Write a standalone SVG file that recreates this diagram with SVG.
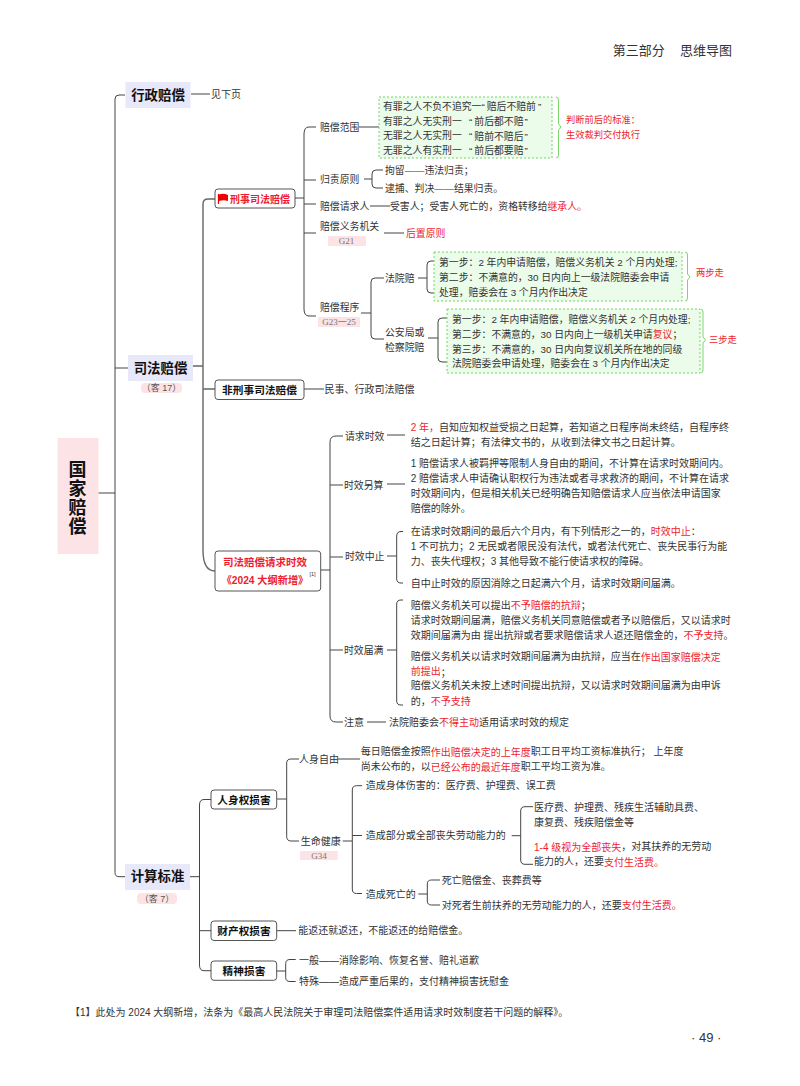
<svg xmlns="http://www.w3.org/2000/svg" width="800" height="1086" viewBox="0 0 800 1086">
<style>
text{font-family:"Liberation Sans","Noto Sans CJK SC",sans-serif;font-size:10px;fill:#333;dominant-baseline:central}
.u{font-size:9.85px}
.r,tspan.r{fill:#ee1c2e}
.s{font-size:9.25px;fill:#ee1c2e}
.h{font-size:13.4px;font-weight:700;fill:#111;text-anchor:middle}
.v{font-size:18px;font-weight:700;fill:#111;text-anchor:middle}
.n{font-size:10.7px;font-weight:700;fill:#111;text-anchor:middle}
.rn{font-size:10.2px;font-weight:700;fill:#ee1c2e;text-anchor:middle}
.g{font-family:"Liberation Serif","Noto Sans CJK SC",serif;font-size:9px;fill:#777;text-anchor:middle}
.k{font-size:9px;fill:#555;text-anchor:middle}
.c{fill:none;stroke:#444;stroke-width:1}
.t{fill:none;stroke:#666;stroke-width:1.4}
.box{fill:#fff;stroke:#555;stroke-width:1}
.main{fill:#e8e8fb}
.pink{fill:#fce4e6}
.dash{fill:#ecfcea;stroke:#6fd85f;stroke-width:1;stroke-dasharray:2 2}
.br{fill:none;stroke:#7ad868;stroke-width:1}
</style>
<rect width="800" height="1086" fill="#fff"/>
<g id="connectors">
<path class="c" d="M125 95H119Q115 95 115 99V872.500Q115 876.700 119 876.700H125M98 493H115M115 368H128"/>
<path class="c" d="M191 94H210"/>
<path class="t" d="M215 199H208Q203 199 203 204V550Q203 571 215 571M193 366H203M203 389H215"/>
<path class="c" d="M304 389H324"/>
<path class="c" d="M295 198H304M316 127H309Q304 127 304 134V309Q304 316 309 316H316M304 180H316M304 204H316M304 233H316M359 127H379"/>
<path class="c" d="M364 179H372M383 170H376Q372 170 372 174V184Q372 188 376 188H383"/>
<path class="c" d="M370 206H390M384 233H404"/>
<path class="c" d="M361 313H371M384 278H375Q371 278 371 282V335Q371 339 375 339H384M418 278H427M434 261H431Q427 261 427 265V289Q427 293 431 293H434M428 338H438M447 318H442Q438 318 438 322V358Q438 362 442 362H447"/>
<path class="br" d="M556 97Q558.500 97 558.500 100V124L561 127L558.500 130V155Q558.500 158 556 158M685 252Q687.500 252 687.500 255V274L690 277L687.500 280V298Q687.500 301 685 301M701 309Q703 309 703 312V337L705.500 340L703 343V370Q703 373 701 373"/>
<path class="c" d="M321 570H330M343 436H336Q330 436 330 442V716Q330 722 336 722H343M330 485H343M330 557H343M330 650H343"/>
<path class="c" d="M387 435H405M387 484H405M387 556H396.700M387 650H396.700M367 722H386M403 531.500H401Q396.700 531.500 396.700 536V579Q396.700 583 401 583H403M403 600H401Q396.700 600 396.700 604V701Q396.700 705 401 705H403"/>
<path class="c" d="M211.500 799.500H204Q199.500 799.500 199.500 805V965Q199.500 970.700 204 970.700H211M190 876.700H199.500M199.500 930.700H211"/>
<path class="c" d="M276.700 799H286.700M299 759H291Q286.700 759 286.700 763V836.500Q286.700 841 291 841H299M338 759H360M342.700 841H352.300M362 785.700H356.500Q352.300 785.700 352.300 790V889Q352.300 893.500 356.500 893.500H362M352.300 835.500H362M511.700 835.700H520.700M533 806.700H525Q520.700 806.700 520.700 811V860Q520.700 864.300 525 864.300H533M418.300 894H427.300M440 880H431.500Q427.300 880 427.300 884V901Q427.300 905 431.500 905H440"/>
<path class="c" d="M276.700 930.700H296M276.700 971H285.700M295.700 959.500H290Q285.700 959.500 285.700 963.500V977.500Q285.700 981.500 290 981.500H295.700"/>
</g>
<g id="root"><rect class="pink" x="57.500" y="438" width="41" height="116"/><text class="v" x="77.500" y="470">国</text><text class="v" x="77.500" y="489">家</text><text class="v" x="77.500" y="508">赔</text><text class="v" x="77.500" y="527">偿</text></g>
<g id="xz"><rect class="main" x="125.500" y="82" width="65" height="26"/><text class="h" x="158" y="95">行政赔偿</text><text x="211" y="94.500">见下页</text></g>
<g id="sf"><rect class="main" x="128" y="355" width="65" height="26"/><text class="h" x="160.500" y="368">司法赔偿</text><rect class="pink" x="141" y="383" width="41" height="10" rx="4"/><text class="k" x="161.500" y="388">（客 17）</text></g>
<g id="js"><rect class="main" x="125" y="864" width="65" height="26"/><text class="h" x="157.500" y="876.700">计算标准</text><rect class="pink" x="137" y="893" width="40" height="11" rx="4"/><text class="k" x="157" y="898.500">（客 7）</text></g>
<g id="xs"><rect class="box" x="215" y="189" width="80" height="19" rx="3"/><path d="M218.500 194V204" stroke="#e00" stroke-width="1.2"/><path d="M219 194.500Q223.500 193 228 195V201Q223.500 199.500 219 201Z" fill="#e00"/><text class="n" style="fill:#ee1c2e;font-size:10px" x="260" y="199">刑事司法赔偿</text></g>
<g id="pc"><text class="u" x="320" y="127">赔偿范围</text><rect class="dash" x="379" y="97" width="173" height="61"/><text class="u" x="383" y="106">有罪之人不负不追究一“<tspan dx="2">赔后不赔前</tspan><tspan dx="2">”</tspan></text><text class="u" x="383" y="121">有罪之人无实刑一</text><text class="u" x="469" y="121">“<tspan dx="2">前后都不赔</tspan><tspan dx="1">”</tspan></text><text class="u" x="383" y="135.500">无罪之人无实刑一</text><text class="u" x="469" y="135.500">“<tspan dx="2">赔前不赔后</tspan><tspan dx="1">”</tspan></text><text class="u" x="383" y="150">无罪之人有实刑一</text><text class="u" x="469" y="150">“<tspan dx="2">前后都要赔</tspan><tspan dx="1">”</tspan></text><text class="s" x="566" y="120">判断前后的标准：</text><text class="s" x="566" y="135">生效裁判交付执行</text></g>
<g id="gz"><text class="u" x="320" y="179">归责原则</text><text class="u" x="385" y="170.500">拘留——违法归责；</text><text class="u" x="385" y="188">逮捕、判决——结果归责。</text></g>
<g id="qq"><text class="u" x="320" y="206">赔偿请求人</text><text class="u" x="390" y="206">受害人；受害人死亡的，资格转移给<tspan class="r">继承人。</tspan></text></g>
<g id="yw"><text class="u" x="320" y="226.500">赔偿义务机关</text><rect class="pink" x="328" y="236" width="38" height="10"/><text class="g" x="346.500" y="241">G21</text><text class="r u" x="406" y="233">后置原则</text></g>
<g id="cx"><text class="u" x="320" y="307">赔偿程序</text><rect class="pink" x="318" y="317" width="42" height="10"/><text class="g" x="339" y="322">G23一25</text>
<text class="u" x="385" y="278">法院赔</text><text class="u" x="385" y="332">公安局或</text><text class="u" x="385" y="347">检察院赔</text>
<rect class="dash" x="434" y="252" width="248" height="49"/><text class="u" x="439" y="262">第一步：2 年内申请赔偿，赔偿义务机关 2 个月内处理;</text><text class="u" x="439" y="277">第二步：不满意的，30 日内向上一级法院赔委会申请</text><text class="u" x="439" y="292">处理，赔委会在 3 个月内作出决定</text><text class="s" x="696" y="273">两步走</text>
<rect class="dash" x="447" y="309" width="253" height="64"/><text class="u" x="452" y="319">第一步：2 年内申请赔偿，赔偿义务机关 2 个月内处理;</text><text class="u" x="452" y="334">第二步：不满意的，30 日内向上一级机关申请<tspan class="r">复议</tspan>；</text><text class="u" x="452" y="349">第三步：不满意的，30 日内向复议机关所在地的同级</text><text class="u" x="452" y="363">法院赔委会申请处理，赔委会在 3 个月内作出决定</text><text class="s" x="709" y="340">三步走</text></g>
<g id="fx"><rect class="box" x="215" y="380" width="89" height="19.500" rx="3"/><text class="n" x="259.500" y="389.500">非刑事司法赔偿</text><text x="324.500" y="389">民事、行政司法赔偿</text></g>
<g id="sx"><rect class="box" x="215" y="551" width="105.700" height="40" rx="3"/><text class="rn" style="font-size:10.5px" x="265" y="561.700">司法赔偿请求时效</text><text class="rn" x="265" y="580.700">《2024 大纲新增》</text><text x="309.500" y="574" style="font-size:5.500px">[1]</text></g>
<g id="s1"><text x="345" y="436" class="u">请求时效</text><text x="410.700" y="427.300"><tspan class="r">2 年，</tspan>自知应知权益受损之日起算，若知道之日程序尚未终结，自程序终</text><text x="410.700" y="442">结之日起计算；有法律文书的，从收到法律文书之日起计算。</text></g>
<g id="s2"><text x="344" y="485" class="u">时效另算</text><text x="410.700" y="463.300">1 赔偿请求人被羁押等限制人身自由的期间，不计算在请求时效期间内。</text><text x="410.700" y="478.300">2 赔偿请求人申请确认职权行为违法或者寻求救济的期间，不计算在请求</text><text x="410.700" y="493.300">时效期间内，但是相关机关已经明确告知赔偿请求人应当依法申请国家</text><text x="410.700" y="508.300">赔偿的除外。</text></g>
<g id="s3"><text x="345" y="556.700" class="u">时效中止</text><text x="410.700" y="531">在请求时效期间的最后六个月内，有下列情形之一的，<tspan class="r">时效中止</tspan>：</text><text x="410.700" y="546">1 不可抗力；2 无民或者限民没有法代，或者法代死亡、丧失民事行为能</text><text x="410.700" y="561">力、丧失代理权；3 其他导致不能行使请求权的障碍。</text><text x="410.700" y="583.300">自中止时效的原因消除之日起满六个月，请求时效期间届满。</text></g>
<g id="s4"><text x="344" y="650" class="u">时效届满</text><text x="410.700" y="605">赔偿义务机关可以提出<tspan class="r">不予赔偿的抗辩</tspan>；</text><text x="410.700" y="620">请求时效期间届满，赔偿义务机关同意赔偿或者予以赔偿后，又以请求时</text><text x="410.700" y="635">效期间届满为由 提出抗辩或者要求赔偿请求人返还赔偿金的，<tspan class="r">不予支持</tspan>。</text><text x="410.700" y="656.700">赔偿义务机关以请求时效期间届满为由抗辩，应当在<tspan class="r">作出国家赔偿决定</tspan></text><text class="r" x="410.700" y="671.700">前提出<tspan style="fill:#333">；</tspan></text><text x="410.700" y="685.700">赔偿义务机关未按上述时间提出抗辩，又以请求时效期间届满为由申诉</text><text x="410.700" y="701">的，<tspan class="r">不予支持</tspan></text></g>
<g id="s5"><text x="344" y="722">注意</text><text x="389" y="722">法院赔委会<tspan class="r">不得主动</tspan>适用请求时效的规定</text></g>
<g id="rs"><rect class="box" x="211" y="790" width="65.700" height="19" rx="3"/><text class="n" x="244" y="799.500">人身权损害</text>
<text x="299" y="759">人身自由</text><text x="360.700" y="751.700">每日赔偿金按照<tspan class="r">作出赔偿决定的上年度</tspan>职工日平均工资标准执行； 上年度</text><text x="360.700" y="766.700">尚未公布的，以<tspan class="r">已经公布的最近年度</tspan>职工平均工资为准。</text>
<text x="300.700" y="841.700">生命健康</text><rect class="pink" x="300" y="851" width="37.700" height="9"/><text class="g" x="319" y="855.500">G34</text>
<text x="365.700" y="785.700">造成身体伤害的：医疗费、护理费、误工费</text><text x="365.700" y="835.700">造成部分或全部丧失劳动能力的</text><text x="365.700" y="894.300">造成死亡的</text>
<text x="534" y="807.700">医疗费、护理费、残疾生活辅助具费、</text><text x="534" y="822.300">康复费、残疾赔偿金等</text><text x="534" y="846.700"><tspan class="r">1-4 级视为全部丧失</tspan>，对其扶养的无劳动</text><text x="534" y="861.700">能力的人，还要<tspan class="r">支付生活费。</tspan></text>
<text x="441.700" y="880">死亡赔偿金、丧葬费等</text><text x="441.700" y="905">对死者生前扶养的无劳动能力的人，还要<tspan class="r">支付生活费。</tspan></text></g>
<g id="cc"><rect class="box" x="211" y="921" width="65.700" height="19.500" rx="3"/><text class="n" x="244" y="930.700">财产权损害</text><text x="298.300" y="930.700">能返还就返还，不能返还的给赔偿金。</text></g>
<g id="js2"><rect class="box" x="211" y="961" width="65.700" height="19.300" rx="3"/><text class="n" x="244" y="970.700">精神损害</text><text x="299" y="960">一般——消除影响、恢复名誉、赔礼道歉</text><text x="299" y="981.700">特殊——造成严重后果的，支付精神损害抚慰金</text></g>
<g id="page"><text x="612.700" y="50" style="font-size:13px">第三部分</text><text x="680" y="50" style="font-size:13px">思维导图</text><text x="70" y="1012">【1】此处为 2024 大纲新增，法条为《最高人民法院关于审理司法赔偿案件适用请求时效制度若干问题的解释》。</text><text x="691" y="1037" style="font-size:13px">· 49 ·</text></g>
</svg>
